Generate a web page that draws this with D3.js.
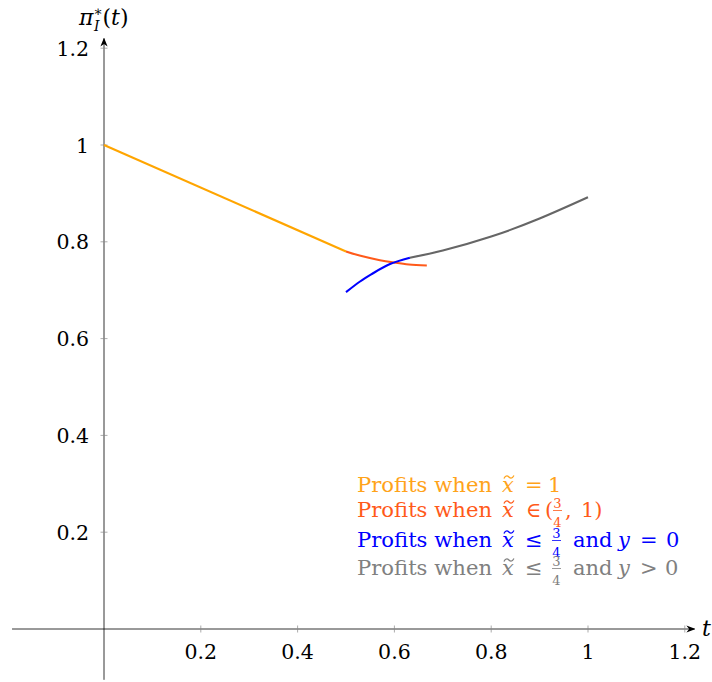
<!DOCTYPE html>
<html>
<head>
<meta charset="utf-8">
<script src="https://cdn.jsdelivr.net/npm/d3@7"></script>
<style>
  body { margin: 0; background: #fff; }
  text { font-family: "DejaVu Serif"; }
</style>
</head>
<body>
<svg id="chart" width="712" height="682"></svg>
<script>
// values: [t, profit]
var profitsX1 = [[0, 1], [0.5, 0.780]];
var profitsMid = [[0.5, 0.780], [0.53, 0.771], [0.57, 0.762], [0.6, 0.757], [0.63, 0.753], [0.667, 0.751]];
var profitsY0 = [[0.5, 0.696], [0.529, 0.718], [0.556, 0.735], [0.591, 0.754], [0.632, 0.767]];
var profitsYpos = [[0.632, 0.767], [0.7, 0.782], [0.8, 0.811], [0.9, 0.848], [1.0, 0.892]];

var xTicks = [0.2, 0.4, 0.6, 0.8, 1, 1.2];
var yTicks = [0.2, 0.4, 0.6, 0.8, 1, 1.2];

var seriesColors = ["#ffa500", "#ff5a1a", "#0000ff", "#666666"];
var legendColors = ["#ffa31a", "#ff5a1a", "#0000ff", "#808080"];

var svg = d3.select("#chart");

var x = d3.scaleLinear().domain([0, 1]).range([104, 588]);
var y = d3.scaleLinear().domain([0, 1]).range([629, 145]);

// arrow head
svg.append("defs").append("marker")
    .attr("id", "arrow")
    .attr("viewBox", "0 0 10 10")
    .attr("refX", 9).attr("refY", 5)
    .attr("markerWidth", 9).attr("markerHeight", 9)
    .attr("markerUnits", "userSpaceOnUse")
    .attr("orient", "auto")
  .append("path")
    .attr("d", "M0,1 L10,5 L0,9 L3,5 Z")
    .attr("fill", "#000");

// axes through the origin
svg.append("line")
    .attr("x1", x(-0.19)).attr("x2", x(1.22))
    .attr("y1", y(0)).attr("y2", y(0))
    .attr("stroke", "#000").attr("stroke-width", 0.8)
    .attr("marker-end", "url(#arrow)");
svg.append("line")
    .attr("x1", x(0)).attr("x2", x(0))
    .attr("y1", y(-0.105)).attr("y2", y(1.22))
    .attr("stroke", "#000").attr("stroke-width", 0.8)
    .attr("marker-end", "url(#arrow)");

var gx = svg.append("g");
gx.selectAll("line.tk").data(xTicks).enter().append("line")
    .attr("x1", function(d) { return x(d); }).attr("x2", function(d) { return x(d); })
    .attr("y1", y(0) - 3.5).attr("y2", y(0) + 3.5)
    .attr("stroke", "#888").attr("stroke-width", 0.7);
gx.selectAll("text").data(xTicks).enter().append("text")
    .attr("x", function(d) { return x(d); })
    .attr("y", y(0) + 30)
    .attr("text-anchor", "middle")
    .attr("font-size", 20.5)
    .text(function(d) { return d3.format("")(d); });

var gy = svg.append("g");
gy.selectAll("line.tk").data(yTicks).enter().append("line")
    .attr("x1", x(0) - 3.5).attr("x2", x(0) + 3.5)
    .attr("y1", function(d) { return y(d); }).attr("y2", function(d) { return y(d); })
    .attr("stroke", "#888").attr("stroke-width", 0.7);
gy.selectAll("text").data(yTicks).enter().append("text")
    .attr("x", x(0) - 15)
    .attr("y", function(d) { return y(d) + 7.5; })
    .attr("text-anchor", "end")
    .attr("font-size", 20.5)
    .text(function(d) { return d3.format("")(d); });

// axis labels
var yl = svg.append("text").attr("x", 79).attr("y", 25).attr("font-size", 22);
yl.append("tspan").attr("font-style", "italic").text("π");
yl.append("tspan").attr("font-size", 14).attr("dy", -9).text("∗");
yl.append("tspan").attr("font-size", 14).attr("font-style", "italic").attr("dx", -9).attr("dy", 15).text("I");
yl.append("tspan").attr("dx", 3).attr("dy", -6).text("(");
yl.append("tspan").attr("font-style", "italic").text("t");
yl.append("tspan").text(")");

svg.append("text").attr("x", 702).attr("y", 636).attr("font-size", 22)
    .attr("font-style", "italic").text("t");

// curves
var line = d3.line()
    .x(function(d) { return x(d[0]); })
    .y(function(d) { return y(d[1]); })
    .curve(d3.curveNatural);

[profitsX1, profitsMid, profitsY0, profitsYpos].forEach(function(s, i) {
  svg.append("path")
      .datum(s)
      .attr("d", line)
      .attr("fill", "none")
      .attr("stroke", seriesColors[i])
      .attr("stroke-width", 2.1);
});

// legend: each piece placed at its own left edge (offset from the legend's left)
var FS = 21;
var LX = 357;
function rich(y0, segs, color) {
  var g = svg.append("g").attr("fill", color);
  segs.forEach(function(s) {
    var cx = LX + s.at;
    if (s.frac) {
      g.append("text").attr("font-size", 13).attr("text-anchor", "middle")
          .attr("x", cx + 4.5).attr("y", y0 - 9).text(s.frac[0]);
      g.append("text").attr("font-size", 13).attr("text-anchor", "middle")
          .attr("x", cx + 4.5).attr("y", y0 + 10).text(s.frac[1]);
      g.append("rect").attr("x", cx).attr("y", y0 - 7).attr("width", 9).attr("height", 0.8);
      return;
    }
    var t = g.append("text").attr("font-size", FS).attr("x", cx).attr("y", y0)
        .style("white-space", "pre").text(s.t);
    if (s.w) t.attr("textLength", s.w).attr("lengthAdjust", "spacingAndGlyphs");
    if (s.it) t.attr("font-style", "italic");
    if (s.tilde) {
      var w = t.node().getComputedTextLength();
      var tx = cx + w / 2 + 1, ty = y0 - 15;
      g.append("path")
          .attr("d", "M" + (tx - 5) + "," + (ty + 1.5) + " C" + (tx - 3) + "," + (ty - 2.5) + " " + (tx - 1) + "," + (ty - 1) + " " + tx + "," + ty +
                " S" + (tx + 3) + "," + (ty + 2.5) + " " + (tx + 5) + "," + (ty - 1.5))
          .attr("fill", "none").attr("stroke", color).attr("stroke-width", 1.3);
    }
  });
}

var head = [{t: "Profits when", at: 0, w: 135}, {t: "x", it: true, tilde: true, at: 145}];
var legendRows = [
  head.concat([{t: "=", at: 168}, {t: "1", at: 191}]),
  head.concat([{t: "∈", at: 169}, {t: "(", at: 188}, {frac: ["3", "4"], at: 196}, {t: ",", at: 208}, {t: "1)", at: 224}]),
  head.concat([{t: "≤", at: 168}, {frac: ["3", "4"], at: 195}, {t: "and", at: 216}, {t: "y", it: true, at: 261}, {t: "=", at: 283}, {t: "0", at: 309}]),
  head.concat([{t: "≤", at: 168}, {frac: ["3", "4"], at: 195}, {t: "and", at: 216}, {t: "y", it: true, at: 261}, {t: ">", at: 283}, {t: "0", at: 308}])
];
var legendY = [492, 517, 547, 575];
legendRows.forEach(function(r, i) { rich(legendY[i], r, legendColors[i]); });
</script>
</body>
</html>
